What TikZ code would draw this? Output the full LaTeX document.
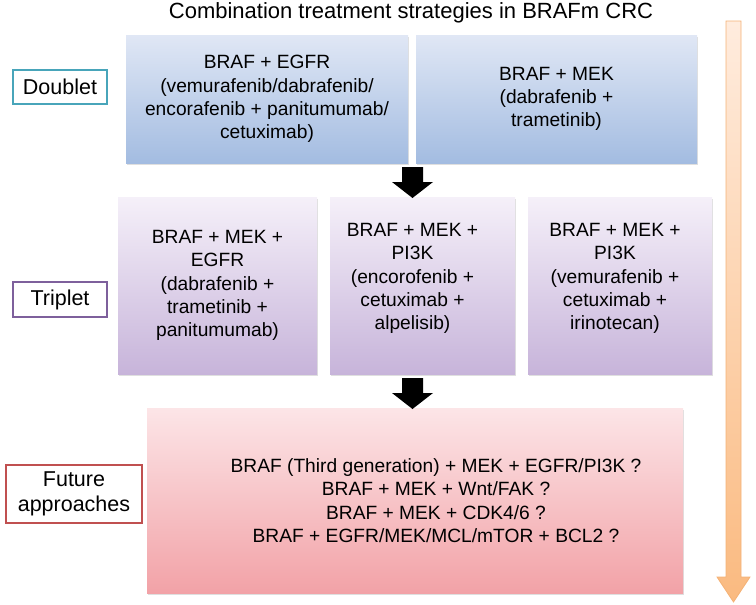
\documentclass[tikz,border=0pt]{standalone}
\usepackage{fontspec}
\setmainfont{Liberation Sans}
\usepackage{tikz}
\usetikzlibrary{shadows}
\definecolor{dblTop}{RGB}{224,231,245}
\definecolor{dblBot}{RGB}{163,188,225}
\definecolor{triTop}{RGB}{245,240,249}
\definecolor{triBot}{RGB}{199,180,218}
\definecolor{futTop}{RGB}{252,229,231}
\definecolor{futBot}{RGB}{242,162,167}
\definecolor{dblLine}{RGB}{72,165,186}
\definecolor{triLine}{RGB}{126,96,156}
\definecolor{futLine}{RGB}{192,80,80}
\definecolor{timeTop}{RGB}{255,236,222}
\definecolor{timeBot}{RGB}{250,186,128}
\definecolor{timeLine}{RGB}{244,178,118}

\begin{document}
\begin{tikzpicture}[x=1pt, y=-1pt,
                line join=miter,
                every node/.style={font=\fontsize{19.2}{23.3}\selectfont},
                stepbox/.style={minimum width=#1, inner sep=0pt, align=center,
                    drop shadow={shadow xshift=1pt, shadow yshift=-2pt, opacity=0.25}},
                label box/.style={draw=#1, line width=1.6pt, fill=white, inner sep=0pt,
                    align=center, font=\fontsize{21.5}{25}\selectfont,
                    drop shadow={shadow xshift=1pt, shadow yshift=-1pt, opacity=0.2}}]
                \useasboundingbox (0,0) rectangle (756,605);

                \def\blockArrow#1#2{ % black down arrow, top at #2, centred on #1
                    \fill[black] (#1-10.5,#2) -- ++(21,0) -- ++(0,15) -- ++(10,0)
                        -- (#1,#2+31) -- (#1-20.5,#2+15) -- ++(10,0) -- cycle;
                }

                % title
                \node[anchor=base, font=\fontsize{22}{26}\selectfont] (title) at (411,18)
                    {Combination treatment strategies in BRAFm CRC};

                % doublet row
                \node[stepbox=282pt, minimum height=128pt, top color=dblTop, bottom color=dblBot]
                    (dbl1) at (267,99) {BRAF + EGFR\\(vemurafenib/dabrafenib/\\encorafenib + panitumumab/\\cetuximab)};
                \node[stepbox=281pt, minimum height=128pt, top color=dblTop, bottom color=dblBot]
                    (dbl2) at (556.5,99) {BRAF + MEK\\(dabrafenib +\\trametinib)};
                \node[label box=dblLine, minimum width=94pt, minimum height=34pt] (doublet) at (60,87) {Doublet};

                % triplet row
                \node[stepbox=199pt, minimum height=177pt, top color=triTop, bottom color=triBot]
                    (tri1) at (217.5,285.5) {};
                \node[stepbox=185pt, minimum height=177pt, top color=triTop, bottom color=triBot]
                    (tri2) at (422.5,285.5) {};
                \node[stepbox=184pt, minimum height=177pt, top color=triTop, bottom color=triBot]
                    (tri3) at (620,285.5) {};
                \node[align=center] (tri1txt) at (tri1.center) {BRAF + MEK +\\EGFR\\(dabrafenib +\\trametinib +\\panitumumab)};
                \node[align=center] (tri2txt) at ([xshift=-10pt, yshift=7pt]tri2.center) {BRAF + MEK +\\PI3K\\(encorofenib +\\cetuximab +\\alpelisib)};
                \node[align=center] (tri3txt) at ([xshift=-5pt, yshift=7pt]tri3.center) {BRAF + MEK +\\PI3K\\(vemurafenib +\\cetuximab +\\irinotecan)};
                \node[label box=triLine, minimum width=94pt, minimum height=35pt] (triplet) at (60,299.5) {Triplet};

                % future row
                \node[stepbox=536pt, minimum height=185pt, top color=futTop, bottom color=futBot]
                    (fut) at (415,500.5) {};
                \node[align=center] (futtxt) at ([xshift=21pt]fut.center)
                    {BRAF (Third generation) + MEK + EGFR/PI3K ?\\BRAF + MEK + Wnt/FAK ?\\BRAF + MEK + CDK4/6 ?\\BRAF + EGFR/MEK/MCL/mTOR + BCL2 ?};
                \node[label box=futLine, minimum width=136pt, minimum height=58pt] (future) at (74,494) {Future\\approaches};

                % arrows between the rows
                \blockArrow{412.5}{167}
                \blockArrow{412.5}{378}

                % time arrow on the right
                \draw[timeLine, top color=timeTop, bottom color=timeBot, line width=0.8pt]
                    (726,21) -- (741,21) -- (741,577) -- (750,577) -- (733.5,602)
                    -- (717,577) -- (726,577) -- cycle;

            \end{tikzpicture}
\end{document}
